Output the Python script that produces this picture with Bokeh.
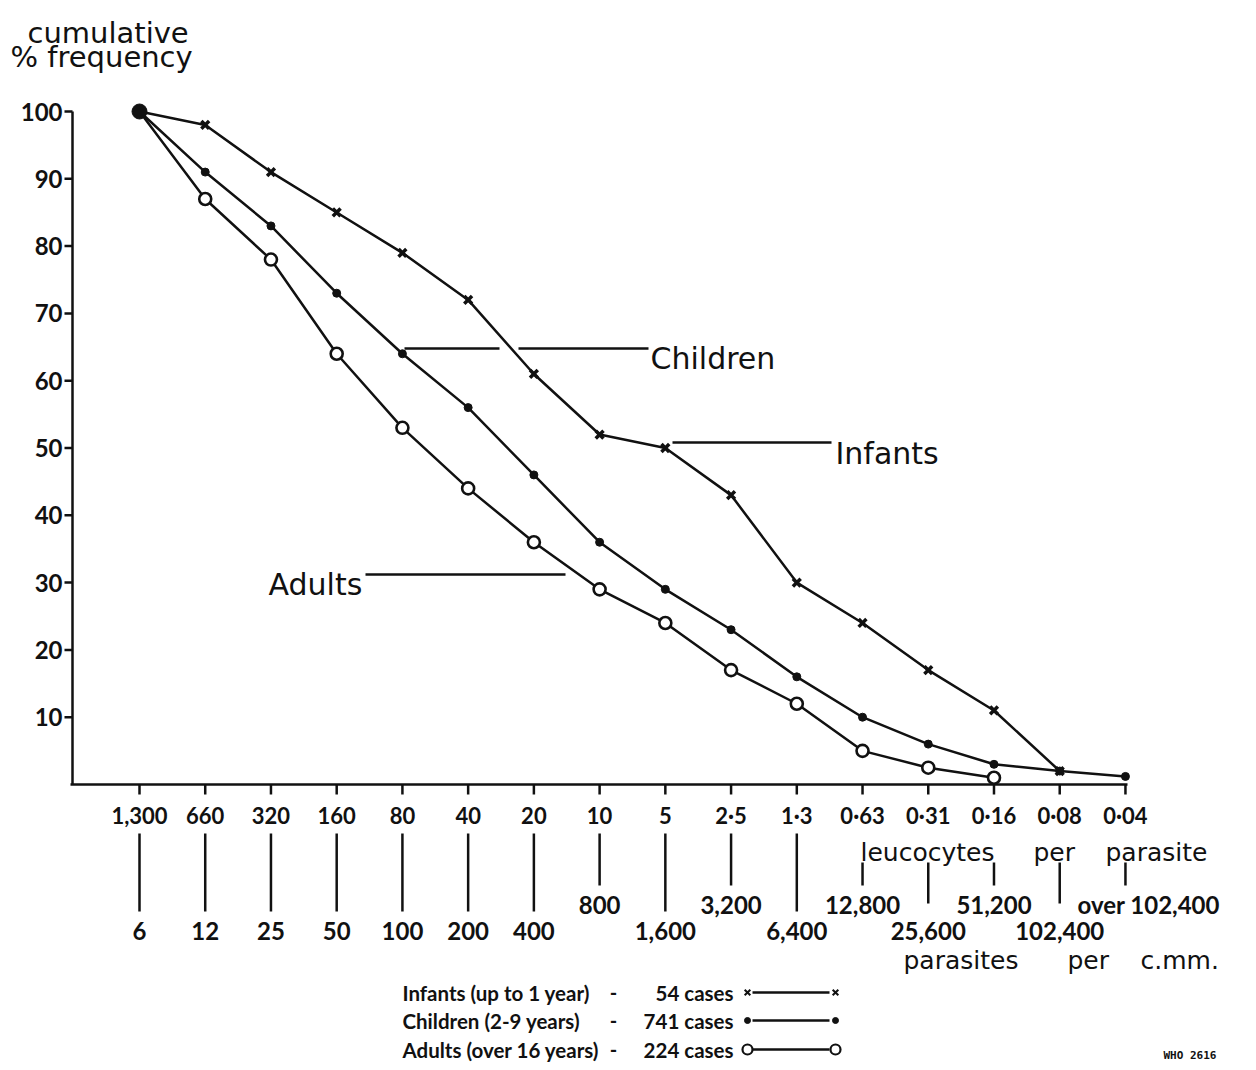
from bokeh.plotting import figure
from bokeh.models import Range1d
from bokeh.core.properties import value
from bokeh.embed import file_html
from bokeh.resources import INLINE

# ---------------- data ----------------
leuco_labels = ["1,300", "660", "320", "160", "80", "40", "20", "10", "5",
                "2·5", "1·3", "0·63", "0·31", "0·16", "0·08", "0·04"]
parasite_labels = ["6", "12", "25", "50", "100", "200", "400", "800", "1,600",
                   "3,200", "6,400", "12,800", "25,600", "51,200", "102,400",
                   "over 102,400"]
y_ticks = [10, 20, 30, 40, 50, 60, 70, 80, 90, 100]

infants = [100, 98, 91, 85, 79, 72, 61, 52, 50, 43, 30, 24, 17, 11, 2]
children = [100, 91, 83, 73, 64, 56, 46, 36, 29, 23, 16, 10, 6, 3, 2, 1.2]
adults = [100, 87, 78, 64, 53, 44, 36, 29, 24, 17, 12, 5, 2.5, 1]

legend_names = ["Infants (up to 1 year)", "Children (2-9 years)", "Adults (over 16 years)"]
legend_cases = ["54 cases", "741 cases", "224 cases"]
series_names = ["Infants", "Children", "Adults"]

# ---------------- layout helpers (picture pixels -> data) ----------------
W, H = 1240, 1062
X0, DX = 139.0, 65.73      # picture x of first category, px per category
Y0, DY = 784.0, 6.73       # picture y of 0 %, px per 1 %


def X(px):
    return (px - X0) / DX


def Y(py):
    return (Y0 - py) / DY


p = figure(width=W, height=H, x_range=Range1d(X(0), X(W)),
           y_range=Range1d(Y(H), Y(0)), min_border=0,
           toolbar_location=None, output_backend="svg",
           x_axis_location=None, y_axis_location=None, title=None)
p.grid.visible = False
p.outline_line_color = None
p.background_fill_color = "white"
p.border_fill_color = "white"

BLACK = "#111111"
NUM_FONT = value("Lato")
WORD_FONT = value("DejaVu Sans")

# ---------------- axes ----------------
p.segment(x0=[X(72)], y0=[0], x1=[X(72)], y1=[max(y_ticks)], line_width=2.5, line_color=BLACK)
p.segment(x0=[X(70)], y0=[0], x1=[X(1127)], y1=[0], line_width=2.5, line_color=BLACK)
p.segment(x0=[X(64)] * len(y_ticks), y0=y_ticks, x1=[X(72)] * len(y_ticks), y1=y_ticks,
          line_width=2.5, line_color=BLACK)
p.text(x=[X(62)] * len(y_ticks), y=y_ticks, text=[str(t) for t in y_ticks],
       text_font=NUM_FONT, text_font_size=value("24px"), text_font_style="bold",
       text_align="right", text_baseline="middle", text_color=BLACK)

idx = list(range(len(leuco_labels)))
p.segment(x0=idx, y0=[0] * len(idx), x1=idx, y1=[Y(794)] * len(idx),
          line_width=2.5, line_color=BLACK)
p.text(x=idx, y=[Y(815)] * len(idx), text=leuco_labels,
       text_font=NUM_FONT, text_font_size=value("22px"), text_font_style="bold",
       text_align="center", text_baseline="middle", text_color=BLACK)

# connector bars and parasite labels (two staggered rows)
bx, btop, bbot = [], [], []
la_x, la_t, lb_x, lb_t = [], [], [], []
for i, lab in enumerate(parasite_labels):
    row_b = i >= 7 and i % 2 == 1
    top = 833 if i < 11 else 862
    bot = 885 if row_b else (911 if i < 11 else 903)
    bx.append(i)
    btop.append(Y(top))
    bbot.append(Y(bot))
    if row_b:
        if i == len(parasite_labels) - 1:
            continue
        lb_x.append(i)
        lb_t.append(lab)
    else:
        la_x.append(i)
        la_t.append(lab)
p.segment(x0=bx, y0=btop, x1=bx, y1=bbot, line_width=2.5, line_color=BLACK)
p.text(x=la_x, y=[Y(930)] * len(la_x), text=la_t,
       text_font=NUM_FONT, text_font_size=value("24px"), text_font_style="bold",
       text_align="center", text_baseline="middle", text_color=BLACK)
p.text(x=lb_x, y=[Y(904)] * len(lb_x), text=lb_t,
       text_font=NUM_FONT, text_font_size=value("24px"), text_font_style="bold",
       text_align="center", text_baseline="middle", text_color=BLACK)
p.text(x=[X(1077)], y=[Y(904)], text=[parasite_labels[-1]],
       text_font=NUM_FONT, text_font_size=value("24px"), text_font_style="bold",
       text_align="left", text_baseline="middle", text_color=BLACK)

# axis captions
for word, px in zip(["leucocytes", "per", "parasite"], [860, 1033, 1105]):
    p.text(x=[X(px)], y=[Y(852)], text=[word], text_font=WORD_FONT,
           text_font_size=value("25px"), text_align="left",
           text_baseline="alphabetic", text_color=BLACK)
for word, px in zip(["parasites", "per", "c.mm."], [903, 1067, 1140]):
    p.text(x=[X(px)], y=[Y(960)], text=[word], text_font=WORD_FONT,
           text_font_size=value("25px"), text_align="left",
           text_baseline="alphabetic", text_color=BLACK)

p.text(x=[X(27)], y=[Y(32)], text=["cumulative"], text_font=WORD_FONT,
       text_font_size=value("29px"), text_align="left", text_baseline="alphabetic",
       text_color=BLACK)
p.text(x=[X(10)], y=[Y(56)], text=["% frequency"], text_font=WORD_FONT,
       text_font_size=value("29px"), text_align="left", text_baseline="alphabetic",
       text_color=BLACK)

# ---------------- series ----------------
LW = 2.5
p.line(list(range(len(infants))), infants, line_width=LW, line_color=BLACK)
p.line(list(range(len(children))), children, line_width=LW, line_color=BLACK)
p.line(list(range(len(adults))), adults, line_width=LW, line_color=BLACK)

p.scatter(list(range(1, len(infants))), infants[1:], marker="x", size=11,
          line_width=3.5, line_color=BLACK)
p.scatter(list(range(1, len(children))), children[1:], marker="circle", size=8,
          fill_color=BLACK, line_color=BLACK)
p.scatter(list(range(1, len(adults))), adults[1:], marker="circle", size=12,
          line_width=2.6, line_color=BLACK, fill_color="white")
p.scatter([0], [infants[0]], marker="circle", size=15, fill_color=BLACK, line_color=BLACK)

# ---------------- in-chart labels ----------------
p.segment(x0=[X(404), X(518)], y0=[Y(348)] * 2, x1=[X(499), X(648)], y1=[Y(348)] * 2,
          line_width=2.5, line_color=BLACK)
p.segment(x0=[X(672)], y0=[Y(442)], x1=[X(831)], y1=[Y(442)], line_width=2.5, line_color=BLACK)
p.segment(x0=[X(365)], y0=[Y(574)], x1=[X(565)], y1=[Y(574)], line_width=2.5, line_color=BLACK)
p.text(x=[X(650), X(835), X(268)], y=[Y(358), Y(453), Y(584)],
       text=[series_names[1], series_names[0], series_names[2]],
       text_font=WORD_FONT, text_font_size=value("30px"), text_align="left",
       text_baseline="alphabetic", text_color=BLACK)

# ---------------- legend ----------------
rows_y = [Y(992), Y(1020), Y(1049)]
p.text(x=[X(402)] * 3, y=rows_y, text=legend_names, text_font=NUM_FONT,
       text_font_size=value("20.5px"), text_font_style="bold", text_align="left",
       text_baseline="middle", text_color=BLACK)
p.text(x=[X(613)] * 3, y=rows_y, text=["-"] * 3, text_font=NUM_FONT,
       text_font_size=value("20px"), text_font_style="bold", text_align="center",
       text_baseline="middle", text_color=BLACK)
p.text(x=[X(733)] * 3, y=rows_y, text=legend_cases, text_font=NUM_FONT,
       text_font_size=value("20.5px"), text_font_style="bold", text_align="right",
       text_baseline="middle", text_color=BLACK)
p.segment(x0=[X(752)] * 3, y0=rows_y, x1=[X(829)] * 3, y1=rows_y,
          line_width=2.5, line_color=BLACK)
p.scatter([X(747), X(835)], [rows_y[0]] * 2, marker="x", size=8, line_width=2,
          line_color=BLACK)
p.scatter([X(747), X(835)], [rows_y[1]] * 2, marker="circle", size=6,
          fill_color=BLACK, line_color=BLACK)
p.scatter([X(747), X(835)], [rows_y[2]] * 2, marker="circle", size=10,
          line_width=2.2, line_color=BLACK, fill_color="white")

p.text(x=[X(1163)], y=[Y(1055)], text=["WHO 2616"], text_font=value("DejaVu Sans Mono"),
       text_font_size=value("11px"), text_font_style="bold", text_align="left",
       text_baseline="middle", text_color=BLACK)

open("out.html", "w").write(file_html(p, INLINE))
